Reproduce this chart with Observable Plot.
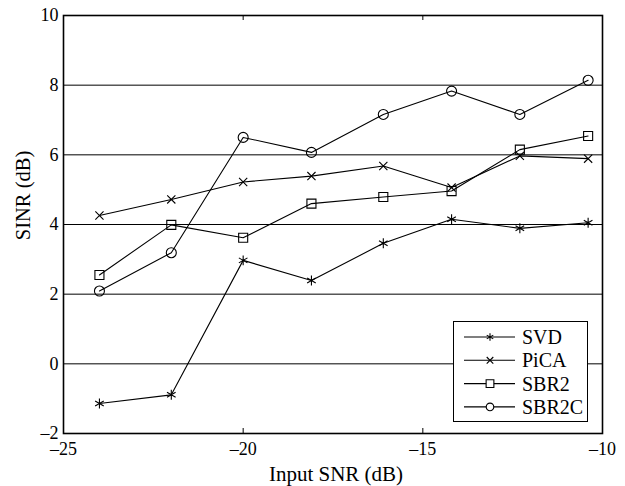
<!DOCTYPE html>
<html>
<head>
<meta charset="utf-8">
<script src="https://cdn.jsdelivr.net/npm/d3@7"></script>
<script src="https://cdn.jsdelivr.net/npm/@observablehq/plot@0.6"></script>
<style>
  html, body { margin: 0; padding: 0; background: white; }
  #wrap { position: relative; width: 625px; height: 486px; font-family: "Liberation Serif", serif; }
  #legend { position: absolute; left: 453px; top: 321px; width: 133px; height: 99px;
            border: 1.5px solid black; background: white; box-sizing: content-box; }
</style>
</head>
<body>
<div id="wrap"><div id="chart"></div><div id="legend"></div></div>
<script>
// ---- data ----
const snr = [-24, -22, -20, -18.1, -16.1, -14.2, -12.3, -10.4];
const seriesNames = ["SVD", "PiCA", "SBR2", "SBR2C"];
const svd   = [-1.14, -0.89, 2.97, 2.39, 3.46, 4.15, 3.89, 4.05];
const pica  = [4.26, 4.72, 5.22, 5.39, 5.68, 5.06, 5.97, 5.89];
const sbr2  = [2.55, 3.99, 3.62, 4.60, 4.79, 4.96, 6.15, 6.54];
const sbr2c = [2.09, 3.19, 6.50, 6.07, 7.16, 7.83, 7.16, 8.14];
const markerNames = ["asterisk", "times", "square", "circle"];
const xTickValues = [-25, -20, -15, -10];
const xInnerTicks = [-20, -15];
const yTickValues = [-2, 0, 2, 4, 6, 8, 10];
const yGridValues = [0, 2, 4, 6, 8];
const xLabel = "Input SNR (dB)";
const yLabel = "SINR (dB)";

const values = [svd, pica, sbr2, sbr2c];
const rows = seriesNames.flatMap((s, i) => snr.map((x, j) => ({series: s, x, y: values[i][j]})));

const W = 625, H = 486, mL = 63, mR = 23, mT = 15, mB = 53;
const innerH = H - mT - mB;
const fmt = d => d < 0 ? "\u2013" + Math.abs(d) : String(d);
const FONT = '"Liberation Serif", serif';

const chart = Plot.plot({
  width: W, height: H,
  marginLeft: mL, marginRight: mR, marginTop: mT, marginBottom: mB,
  style: {fontFamily: FONT, fontSize: "18px", color: "black", background: "white"},
  x: {domain: [-25, -10]},
  y: {domain: [-2, 10]},
  symbol: {domain: seriesNames, range: markerNames},
  marks: [
    Plot.gridY(yGridValues, {stroke: "black", strokeOpacity: 1, strokeWidth: 1}),
    Plot.tickX(xInnerTicks, {stroke: "black", insetTop: innerH - 5}),
    Plot.tickX(xInnerTicks, {stroke: "black", insetBottom: innerH - 5}),
    Plot.frame({stroke: "black", strokeWidth: 1.6}),
    Plot.axisX(xTickValues, {tickSize: 0, tickPadding: 9, label: null, tickFormat: fmt, fontSize: 18}),
    Plot.axisY(yTickValues, {tickSize: 0, tickPadding: 5, label: null, tickFormat: fmt, fontSize: 18}),
    Plot.text([xLabel], {frameAnchor: "bottom", lineAnchor: "middle", textAnchor: "middle", dx: 3, dy: 41, fontSize: 21, fill: "black"}),
    Plot.text([yLabel], {frameAnchor: "left", lineAnchor: "middle", textAnchor: "middle", dx: -40, dy: -29, rotate: -90, fontSize: 20.5, fill: "black"}),
    Plot.line(rows, {x: "x", y: "y", z: "series", stroke: "black", strokeWidth: 1.1}),
    Plot.dot(rows.filter(d => d.series === "SVD"), {x: "x", y: "y", symbol: "series", r: 4.7, stroke: "black", fill: "none", strokeWidth: 1.1}),
    Plot.dot(rows.filter(d => d.series === "PiCA"), {x: "x", y: "y", symbol: "series", r: 3.8, stroke: "black", fill: "none", strokeWidth: 1.1}),
    Plot.dot(rows.filter(d => d.series === "SBR2"), {x: "x", y: "y", symbol: "series", r: 5.1, stroke: "black", fill: "none", strokeWidth: 1.1}),
    Plot.dot(rows.filter(d => d.series === "SBR2C"), {x: "x", y: "y", symbol: "series", r: 5, stroke: "black", fill: "none", strokeWidth: 1.1})
  ]
});
document.getElementById("chart").appendChild(chart);

// ---- legend ----
const legendSymbols = [d3.symbolAsterisk, d3.symbolTimes, d3.symbolSquare, d3.symbolCircle];
const legendSizes = [40, 30, 60, 45];
const lsvg = d3.select("#legend").append("svg").attr("width", 133).attr("height", 99)
  .style("font-family", FONT).style("font-size", "20px");
seriesNames.forEach((name, i) => {
  const cy = 15 + i * 23.3;
  const g = lsvg.append("g").attr("transform", `translate(0,${cy})`);
  g.append("line").attr("x1", 10).attr("x2", 61).attr("stroke", "black").attr("stroke-width", 1.1);
  g.append("path").attr("transform", "translate(36,0)")
    .attr("d", d3.symbol(legendSymbols[i], legendSizes[i])())
    .attr("fill", "white").attr("stroke", "black").attr("stroke-width", 1.1);
  g.append("text").attr("x", 68).attr("y", 0).attr("dy", "0.35em").attr("fill", "black").text(name);
});
</script>
</body>
</html>
